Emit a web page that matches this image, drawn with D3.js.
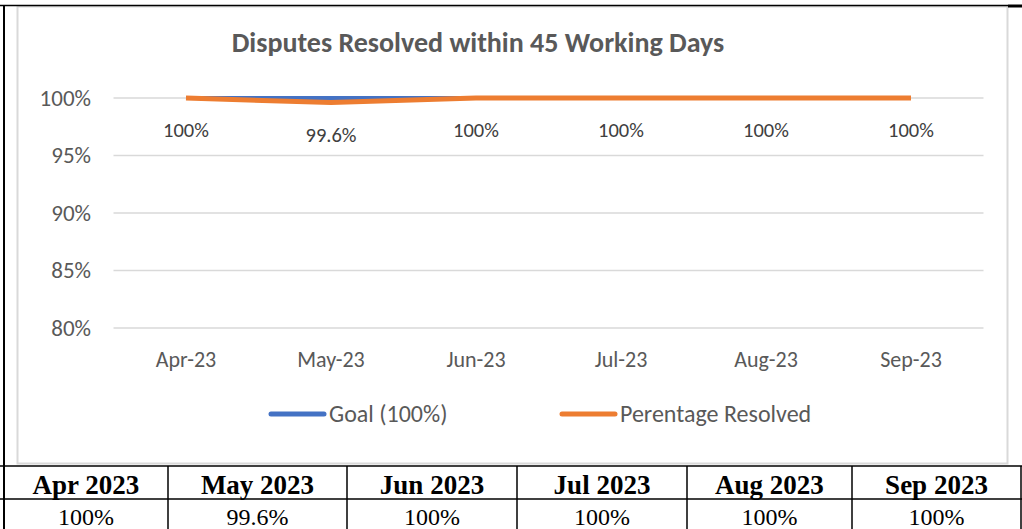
<!DOCTYPE html>
<html>
<head>
<meta charset="utf-8">
<script src="https://cdn.jsdelivr.net/npm/d3@7"></script>
<style>
  html, body { margin: 0; padding: 0; background: #fff; }
  svg { display: block; }
</style>
</head>
<body>
<svg id="chart" width="1022" height="529"></svg>
<script>
// chart data
const months = ["Apr-23", "May-23", "Jun-23", "Jul-23", "Aug-23", "Sep-23"];
const goal = [100, 100, 100, 100, 100, 100];
const resolved = [100, 99.6, 100, 100, 100, 100];
const yTicks = [80, 85, 90, 95, 100];
const seriesNames = ["Goal (100%)", "Perentage Resolved"];
const title = "Disputes Resolved within 45 Working Days";

// table under the chart
const tableHeaders = ["Apr 2023", "May 2023", "Jun 2023", "Jul 2023", "Aug 2023", "Sep 2023"];
const tableValues = ["100%", "99.6%", "100%", "100%", "100%", "100%"];

const blue = "#4472C4", orange = "#ED7D31", grey = "#595959";
const svg = d3.select("#chart");
const calibri = "Carlito, Lato, 'Open Sans', sans-serif";
const times = "'Liberation Serif', 'Times New Roman', serif";

// chart frame
svg.append("rect")
  .attr("x", 17.5).attr("y", 6.5).attr("width", 990).attr("height", 457)
  .attr("fill", "#fff").attr("stroke", "#d9d9d9").attr("stroke-width", 2);

// outer black lines
svg.append("line").attr("x1", 0).attr("x2", 1008).attr("y1", 5.5).attr("y2", 5.5)
  .attr("stroke", "#000").attr("stroke-width", 1.5);
svg.append("line").attr("x1", 1008).attr("x2", 1022).attr("y1", 6).attr("y2", 6)
  .attr("stroke", "#000").attr("stroke-width", 3);
svg.append("line").attr("x1", 4).attr("x2", 4).attr("y1", 5).attr("y2", 529)
  .attr("stroke", "#000").attr("stroke-width", 2);

const x = d3.scaleBand().domain(months).range([113.5, 983.5]);
const y = d3.scaleLinear().domain([80, 100]).range([328, 98]);
const cx = d => x(d) + x.bandwidth() / 2;

// title
svg.append("text")
  .attr("x", 478).attr("y", 52)
  .attr("text-anchor", "middle")
  .attr("font-family", calibri).attr("font-weight", "bold")
  .attr("font-size", 28).attr("fill", grey)
  .text(title);

// gridlines
svg.append("g").selectAll("line").data(yTicks).join("line")
  .attr("x1", 113.5).attr("x2", 983.5)
  .attr("y1", d => y(d)).attr("y2", d => y(d))
  .attr("stroke", "#d9d9d9").attr("stroke-width", 1.5);

// y axis
const yAxis = svg.append("g").attr("transform", "translate(100,0)")
  .call(d3.axisLeft(y).tickValues(yTicks).tickFormat(d => d + "%").tickSize(0).tickPadding(9));
yAxis.select(".domain").remove();
yAxis.selectAll("text").attr("font-family", calibri).attr("font-size", 23).attr("fill", grey);

// x axis
const xAxis = svg.append("g").attr("transform", "translate(0,367)")
  .call(d3.axisBottom(x).tickSize(0));
xAxis.select(".domain").remove();
xAxis.selectAll("text").attr("y", 0).attr("dy", 0)
  .attr("font-family", calibri).attr("font-size", 22).attr("fill", grey);

// lines
const line = d3.line().x((d, i) => cx(months[i])).y(d => y(d));
svg.append("path").datum(goal)
  .attr("fill", "none").attr("stroke", blue).attr("stroke-width", 4)
  .attr("stroke-linejoin", "round").attr("d", line);
svg.append("path").datum(resolved)
  .attr("fill", "none").attr("stroke", orange).attr("stroke-width", 5)
  .attr("stroke-linejoin", "round").attr("d", line);

// data labels
svg.append("g").selectAll("text").data(resolved).join("text")
  .attr("x", (d, i) => cx(months[i]))
  .attr("y", d => y(d) + 39)
  .attr("text-anchor", "middle")
  .attr("font-family", calibri).attr("font-size", 20.5).attr("fill", "#404040")
  .text(d => d + "%");

// legend
const legendX = [269, 560];
const legend = svg.append("g").selectAll("g").data(seriesNames).join("g")
  .attr("transform", (d, i) => `translate(${legendX[i]},414)`);
legend.append("line")
  .attr("x1", 2).attr("x2", 55)
  .attr("stroke", (d, i) => i ? orange : blue)
  .attr("stroke-width", 5).attr("stroke-linecap", "round");
legend.append("text")
  .attr("x", 60).attr("y", 8)
  .attr("font-family", calibri).attr("font-size", 24).attr("fill", grey)
  .text(d => d);

// table
const colEdges = [4, 168, 347, 517, 687, 852, 1021];
const rowEdges = [466, 499, 531];
const table = svg.append("g");
table.selectAll(".hl").data(rowEdges).join("line")
  .attr("x1", 0).attr("x2", 1022)
  .attr("y1", d => d).attr("y2", d => d)
  .attr("stroke", "#000").attr("stroke-width", 1.5);
table.selectAll(".vl").data(colEdges).join("line")
  .attr("x1", d => d).attr("x2", d => d)
  .attr("y1", 466).attr("y2", 529)
  .attr("stroke", "#000").attr("stroke-width", (d, i) => i === 0 ? 2 : 1.5);
table.selectAll(".th").data(tableHeaders).join("text")
  .attr("x", (d, i) => (colEdges[i] + colEdges[i + 1]) / 2)
  .attr("y", 494)
  .attr("text-anchor", "middle")
  .attr("font-family", times)
  .attr("font-weight", "bold").attr("font-size", 27).attr("fill", "#000")
  .text(d => d);
table.selectAll(".td").data(tableValues).join("text")
  .attr("x", (d, i) => (colEdges[i] + colEdges[i + 1]) / 2)
  .attr("y", 525)
  .attr("text-anchor", "middle")
  .attr("font-family", times)
  .attr("font-size", 24).attr("fill", "#000")
  .text(d => d);
</script>
</body>
</html>
